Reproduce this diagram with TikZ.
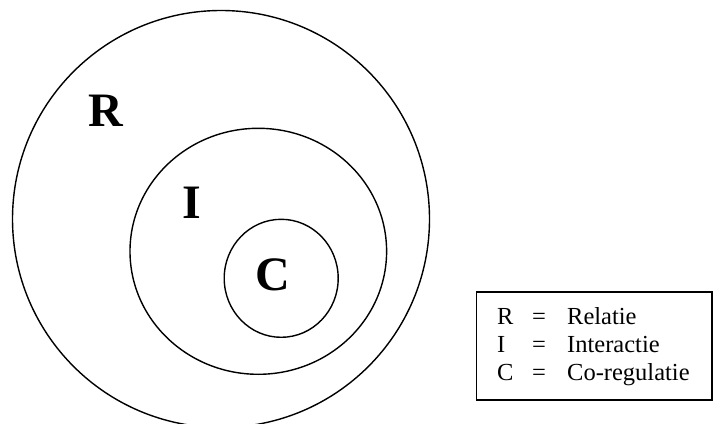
\documentclass[tikz,border=0pt]{standalone}
\usepackage{fontspec}
\setmainfont{Liberation Serif}
\begin{document}
\begin{tikzpicture}[x=1pt,y=1pt,
  ring/.style={draw,line width=1.4pt},
  big/.style={font=\fontsize{48}{48}\selectfont\bfseries, anchor=base, inner sep=0pt},
  leg/.style={font=\fontsize{24.5}{28}\selectfont, anchor=base west, inner sep=0pt},
  legbox/.style={draw,line width=1.4pt}]
\useasboundingbox (0,0) rectangle (714,423);
\clip (0,0) rectangle (714,423);
% circles
\draw[ring] (221,204) circle (208.5);
\draw[ring] (258.3,171.7) ellipse [x radius=128.3, y radius=123];
\draw[ring] (281.2,144.7) ellipse [x radius=57, y radius=59];
% big letters
\node[big] (R) at (106,296) {R};
\node[big] (I) at (192,204) {I};
\node[big] (C) at (273,132) {C};
% legend
\draw[legbox] (476.5,131) rectangle (712,23);
\node[leg] (l1a) at (497,99) {R};
\node[leg] (l1b) at (532,99) {=};
\node[leg] (l1c) at (567,99) {Relatie};
\node[leg] (l2a) at (497,71) {I};
\node[leg] (l2b) at (532,71) {=};
\node[leg] (l2c) at (567,71) {Interactie};
\node[leg] (l3a) at (497,43) {C};
\node[leg] (l3b) at (532,43) {=};
\node[leg] (l3c) at (567,43) {Co-regulatie};
\end{tikzpicture}
\end{document}
